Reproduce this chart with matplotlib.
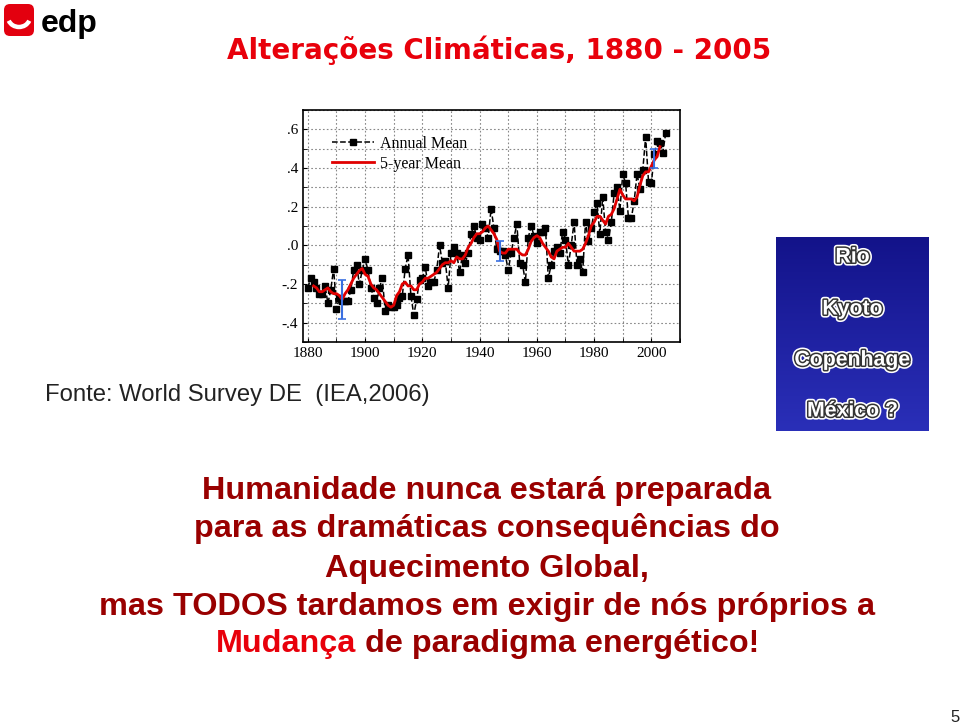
import matplotlib
matplotlib.use("Agg")
import matplotlib.pyplot as plt
import matplotlib.patheffects as pe
from matplotlib.patches import FancyBboxPatch, Arc
import numpy as np

# GISS global temperature anomaly (C)
anos = list(range(1880, 2006))
media_anual = [
    -0.22, -0.17, -0.19, -0.22, -0.25, -0.25, -0.21, -0.30, -0.23, -0.12,
    -0.33, -0.27, -0.29, -0.29, -0.29, -0.23, -0.13, -0.10, -0.20, -0.13,
    -0.07, -0.13, -0.22, -0.27, -0.30, -0.22, -0.17, -0.34, -0.31, -0.32,
    -0.32, -0.31, -0.27, -0.26, -0.12, -0.05, -0.26, -0.36, -0.28, -0.18,
    -0.17, -0.11, -0.21, -0.19, -0.19, -0.13, 0.00, -0.09, -0.08, -0.22,
    -0.04, -0.01, -0.04, -0.14, -0.05, -0.09, -0.04, 0.06, 0.10, 0.04,
    0.03, 0.11, 0.09, 0.04, 0.19, 0.09, -0.02, -0.03, -0.03, -0.05,
    -0.13, -0.04, 0.04, 0.11, -0.09, -0.10, -0.19, 0.04, 0.10, 0.05,
    0.01, 0.07, 0.07, 0.09, -0.17, -0.10, -0.03, -0.01, -0.04, 0.07,
    0.03, -0.10, 0.00, 0.12, -0.10, -0.07, -0.14, 0.12, 0.02, 0.09,
    0.17, 0.22, 0.06, 0.25, 0.07, 0.03, 0.12, 0.27, 0.30, 0.18,
    0.37, 0.32, 0.14, 0.14, 0.23, 0.37, 0.29, 0.39, 0.56, 0.33,
    0.32, 0.47, 0.54, 0.53, 0.48, 0.58]

anos_5 = list(range(1882, 2004))
media_5anos = [
    -0.21, -0.22, -0.24, -0.24, -0.23, -0.22, -0.24, -0.25,
    -0.25, -0.26, -0.28, -0.25, -0.23, -0.20, -0.17, -0.15, -0.13, -0.12,
    -0.15, -0.16, -0.20, -0.22, -0.23, -0.25, -0.27, -0.29, -0.31, -0.32,
    -0.31, -0.26, -0.24, -0.20, -0.19, -0.21, -0.21, -0.23, -0.23, -0.20,
    -0.19, -0.17, -0.17, -0.16, -0.15, -0.14, -0.12, -0.10, -0.09, -0.09,
    -0.08, -0.09, -0.06, -0.07, -0.07, -0.05, -0.01, 0.01, 0.04, 0.06,
    0.06, 0.07, 0.09, 0.10, 0.08, 0.06, 0.03, -0.03, -0.04, -0.04,
    -0.02, -0.02, -0.02, -0.02, -0.04, -0.05, -0.05, -0.02, 0.02, 0.04,
    0.05, 0.04, 0.01, -0.01, -0.03, -0.06, -0.07, -0.03, -0.02, -0.01,
    -0.01, 0.01, -0.01, -0.03, -0.03, -0.03, -0.02, 0.01, 0.05, 0.10,
    0.12, 0.15, 0.15, 0.13, 0.11, 0.15, 0.16, 0.19, 0.24, 0.29,
    0.26, 0.24, 0.24, 0.24, 0.23, 0.25, 0.31, 0.36, 0.38, 0.38,
    0.41, 0.44, 0.46, 0.51]

# barras de incerteza
anos_erro = [1892, 1947, 2001]
centro_erro = [-0.28, -0.03, 0.45]
erro = [0.10, 0.05, 0.05]

locais = ["Rio", "Kyoto", "Copenhage", "México ?"]

escuro = "#990000"
vermelho = "#e8000b"

fig = plt.figure(figsize=(9.6, 7.26), dpi=100)

# --- grafico ---
ax = fig.add_axes([303/960, 1-342/726, 377/960, 232/726])
ax.plot(anos, media_anual, ls="--", color="black", lw=1.1, marker="s",
        ms=4.5, label="Annual Mean")
ax.plot(anos_5, media_5anos, color="#e00000", lw=2, label="5-year Mean")
ax.errorbar(anos_erro, centro_erro, yerr=erro, fmt="none", ecolor="#3a6fe0",
            elinewidth=1.5, capsize=3, capthick=1.2)
ax.set_xlim(1878.3, 2008.6)
ax.set_ylim(-0.5, 0.7)
ax.set_xticks(np.arange(1880, 2001, 20))
ax.set_xticks(np.arange(1880, 2011, 10), minor=True)
ax.set_yticks(np.arange(-0.4, 0.61, 0.2))
ax.set_yticks(np.arange(-0.5, 0.71, 0.1), minor=True)
ax.set_yticklabels(["-.4", "-.2", ".0", ".2", ".4", ".6"])
ax.grid(which="both", ls=(0, (1.5, 2)), color="#888888", lw=0.8)
ax.tick_params(which="both", direction="in", length=3, labelsize=11)
for lab in ax.get_xticklabels() + ax.get_yticklabels():
    lab.set_family("Liberation Serif")
for s in ax.spines.values():
    s.set_linewidth(1.2)
leg = ax.legend(loc="upper left", bbox_to_anchor=(0.04, 0.95), frameon=False,
                prop={"family": "Liberation Serif", "size": 11.5},
                handlelength=2.6, labelspacing=0.25, handletextpad=0.4)

# --- textos ---
fig.text(499/960, 1-50/726, "Alterações Climáticas, 1880 - 2005", ha="center",
         va="center", color=vermelho, fontsize=20, fontweight="bold",
         family="DejaVu Sans")
fig.text(45/960, 1-395/726, "Fonte: World Survey DE  (IEA,2006)", ha="left",
         va="center", color="#222222", fontsize=17.2, family="Liberation Sans")

linhas = ["Humanidade nunca estará preparada",
          "para as dramáticas consequências do",
          "Aquecimento Global,",
          "mas TODOS tardamos em exigir de nós próprios a"]
ys = [499, 537, 577, 615]
for t, y in zip(linhas, ys):
    fig.text(487/960, 1-y/726, t, ha="center", va="baseline", color=escuro,
             fontsize=23.3, fontweight="bold", family="Liberation Sans")
t1 = fig.text(216/960, 1-652/726, "Mudança", ha="left", va="baseline",
              color=vermelho, fontsize=23.3, fontweight="bold",
              family="Liberation Sans")
fig.canvas.draw()
bb = t1.get_window_extent()
fig.text(bb.x1/960 + 0.009, 1-652/726, "de paradigma energético!", ha="left",
         va="baseline", color=escuro, fontsize=23.3, fontweight="bold",
         family="Liberation Sans")

fig.text(955/960, 1-718/726, "5", ha="center", va="center", fontsize=12,
         family="Liberation Sans", color="#222222")

# --- caixa azul ---
cx = fig.add_axes([776/960, 1-431/726, 153/960, 194/726])
grad = np.linspace(0, 1, 100).reshape(-1, 1)
cmap = matplotlib.colors.LinearSegmentedColormap.from_list(
    "azul", ["#13138a", "#2a2fb8"])
cx.imshow(grad, aspect="auto", cmap=cmap, extent=[0, 1, 0, 1], origin="upper")
cx.set_xlim(0, 1)
cx.set_ylim(0, 1)
cx.axis("off")
efeito = [pe.Stroke(linewidth=4.5, foreground="white"),
          pe.Stroke(linewidth=2.2, foreground="#333333"), pe.Normal()]
for nome, y in zip(locais, [257, 309, 360, 411]):
    cx.text(0.5, (431 - y)/194, nome, ha="center", va="center", color="white",
            fontsize=15.3, fontweight="bold", family="Liberation Sans",
            path_effects=efeito)

# --- logotipo edp ---
lx = fig.add_axes([0, 1-42/726, 110/960, 42/726])
lx.set_xlim(0, 110)
lx.set_ylim(42, 0)
lx.axis("off")
lx.add_patch(FancyBboxPatch((4, 4), 30, 32, boxstyle="round,pad=0,rounding_size=6",
                            fc="#e3000f", ec="none"))
lx.add_patch(Arc((19, 17), 22, 20, theta1=20, theta2=160, lw=3.2,
                 color="white"))
lx.text(41, 24, "edp", ha="left", va="center", fontsize=23, fontweight="bold",
        family="Liberation Sans", color="black")

fig.savefig("out.png", dpi=100)
